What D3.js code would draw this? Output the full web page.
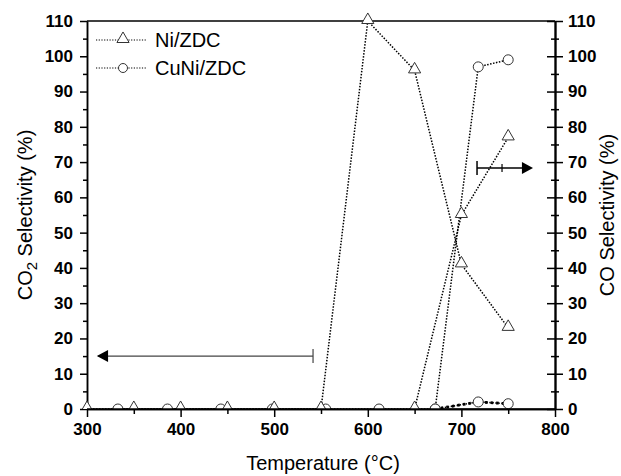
<!DOCTYPE html>
<html><head><meta charset="utf-8">
<script src="https://cdn.jsdelivr.net/npm/d3@7"></script>
<style>
html,body{margin:0;padding:0;background:#fff;}
svg{display:block;font-family:"Liberation Sans",Arial,sans-serif;}
</style></head>
<body>
<script>
// ---- data ----
const niTemps = [300, 350, 400, 450, 500, 550, 600, 650, 700, 750];
const niCO2 = [0, 0, 0, 0, 0, 0, 110, 96, 41, 23];
const niCOTemps = [650, 700, 750];
const niCO = [0, 55, 77];
const cuniTemps = [333, 386, 443, 498, 555, 612, 672, 718, 750];
const cuniCO2 = [0, 0, 0, 0, 0, 0, 0, 2, 1.5];
const cuniCOTemps = [672, 718, 750];
const cuniCO = [0, 97, 99];
const xTicks = [300, 400, 500, 600, 700, 800];
const yTicks = [0, 10, 20, 30, 40, 50, 60, 70, 80, 90, 100, 110];
const seriesNames = ["Ni/ZDC", "CuNi/ZDC"];

const W = 621, H = 476;
const pLeft = 87, pRight = 555, pTop = 21, pBottom = 409;
const svg = d3.select("body").append("svg").attr("width", W).attr("height", H);

const x = d3.scaleLinear().domain([300, 800]).range([pLeft, pRight]);
const y = d3.scaleLinear().domain([0, 110]).range([pBottom, pTop]);

const minorX = d3.range(300, 801, 50).filter(v => v % 100 !== 0);
const minorY = d3.range(5, 110, 10);

function styleAxis(g) {
  g.selectAll("path.domain").attr("stroke", "#000").attr("stroke-width", 1.5);
  g.selectAll(".tick line").attr("stroke", "#000").attr("stroke-width", 1.5);
  g.selectAll("text").attr("font-size", 17).attr("font-weight", "bold")
    .attr("font-family", "'Liberation Sans', Arial, sans-serif").attr("fill", "#000");
}

// top border
svg.append("line").attr("x1", pLeft).attr("x2", pRight).attr("y1", pTop).attr("y2", pTop)
  .attr("stroke", "#000").attr("stroke-width", 1.5);

// bottom axis
svg.append("g").attr("transform", `translate(0,${pBottom})`)
  .call(d3.axisBottom(x).tickValues(minorX).tickSize(5).tickFormat("").tickSizeOuter(0)).call(styleAxis);
svg.append("g").attr("transform", `translate(0,${pBottom})`)
  .call(d3.axisBottom(x).tickValues(xTicks).tickSize(8).tickPadding(6).tickSizeOuter(0)).call(styleAxis);

// left axis
svg.append("g").attr("transform", `translate(${pLeft},0)`)
  .call(d3.axisLeft(y).tickValues(minorY).tickSize(4).tickFormat("").tickSizeOuter(0)).call(styleAxis);
svg.append("g").attr("transform", `translate(${pLeft},0)`)
  .call(d3.axisLeft(y).tickValues(yTicks).tickSize(7).tickPadding(7).tickSizeOuter(0)).call(styleAxis);

// right axis (crossing ticks)
svg.append("g").attr("transform", `translate(${pRight},0)`)
  .call(d3.axisLeft(y).tickValues(minorY).tickSize(4).tickFormat("").tickSizeOuter(0)).call(styleAxis);
svg.append("g").attr("transform", `translate(${pRight},0)`)
  .call(d3.axisRight(y).tickValues(minorY).tickSize(4).tickFormat("").tickSizeOuter(0)).call(styleAxis);
svg.append("g").attr("transform", `translate(${pRight},0)`)
  .call(d3.axisLeft(y).tickValues(yTicks).tickSize(8).tickFormat("").tickSizeOuter(0)).call(styleAxis);
svg.append("g").attr("transform", `translate(${pRight},0)`)
  .call(d3.axisRight(y).tickValues(yTicks).tickSize(8).tickPadding(5).tickSizeOuter(0)).call(styleAxis);

// axis titles
svg.append("text").attr("x", (pLeft + pRight) / 2 + 2).attr("y", 470)
  .attr("text-anchor", "middle").attr("font-size", 20).text("Temperature (°C)");
const lt = svg.append("text").attr("transform", `translate(32,${(pTop + pBottom) / 2}) rotate(-90)`)
  .attr("text-anchor", "middle").attr("font-size", 20);
lt.append("tspan").text("CO");
lt.append("tspan").attr("font-size", 15).attr("dy", 5).text("2");
lt.append("tspan").attr("dy", -5).text(" Selectivity (%)");
svg.append("text").attr("transform", `translate(614,${(pTop + pBottom) / 2}) rotate(-90)`)
  .attr("text-anchor", "middle").attr("font-size", 20).text("CO Selectivity (%)");

// clip
svg.append("clipPath").attr("id", "clip").append("rect")
  .attr("x", 0).attr("y", 0).attr("width", W).attr("height", pBottom);

const plot = svg.append("g").attr("clip-path", "url(#clip)");
const line = d3.line().x(d => x(d[0])).y(d => y(d[1]));

function drawLine(temps, vals, width, dash) {
  plot.append("path").datum(temps.map((t, i) => [t, vals[i]]))
    .attr("d", line).attr("fill", "none").attr("stroke", "#000")
    .attr("stroke-width", width).attr("stroke-dasharray", dash);
}
drawLine(niTemps, niCO2, 1.5, "1.5,1.5");
drawLine(niCOTemps, niCO, 1.5, "1.5,1.5");
drawLine(cuniTemps, cuniCO2, 1.5, "1.5,1.5");
drawLine(cuniTemps.slice(6), cuniCO2.slice(6), 2.8, "2.6,3");
drawLine(cuniCOTemps, cuniCO, 1.5, "1.5,1.5");

const tri = d3.symbol().type(d3.symbolTriangle).size(64);
function drawTri(temps, vals) {
  plot.selectAll(null).data(temps.map((t, i) => [t, vals[i]])).enter().append("path")
    .attr("d", tri).attr("transform", d => `translate(${x(d[0])},${y(d[1]) - 1})`)
    .attr("fill", "#fff").attr("stroke", "#333").attr("stroke-width", 1);
}
function drawCirc(temps, vals) {
  plot.selectAll(null).data(temps.map((t, i) => [t, vals[i]])).enter().append("circle")
    .attr("cx", d => x(d[0])).attr("cy", d => y(d[1])).attr("r", 5)
    .attr("fill", "#fff").attr("stroke", "#333").attr("stroke-width", 1);
}
drawCirc(cuniTemps, cuniCO2);
drawCirc(cuniCOTemps, cuniCO);
drawTri(niTemps, niCO2);
drawTri(niCOTemps, niCO);

// baseline redraw
svg.append("line").attr("x1", pLeft).attr("x2", pRight).attr("y1", pBottom).attr("y2", pBottom)
  .attr("stroke", "#000").attr("stroke-width", 1.5);

// arrows
const ly = y(15);
svg.append("line").attr("x1", x(312)).attr("x2", x(541.5)).attr("y1", ly).attr("y2", ly)
  .attr("stroke", "#444").attr("stroke-width", 1.2);
svg.append("line").attr("x1", x(541.5)).attr("x2", x(541.5)).attr("y1", ly - 7).attr("y2", ly + 7)
  .attr("stroke", "#444").attr("stroke-width", 1.2);
svg.append("path").attr("d", `M${x(310.5)},${ly}L${x(322.5)},${ly - 6}L${x(322.5)},${ly + 6}Z`).attr("fill", "#000");
const ry = y(68.3);
svg.append("line").attr("x1", x(716.7)).attr("x2", x(770)).attr("y1", ry).attr("y2", ry)
  .attr("stroke", "#000").attr("stroke-width", 1.5);
svg.append("line").attr("x1", x(716.7)).attr("x2", x(716.7)).attr("y1", ry - 7).attr("y2", ry + 7)
  .attr("stroke", "#000").attr("stroke-width", 1.5);
svg.append("line").attr("x1", x(743.4)).attr("x2", x(743.4)).attr("y1", ry - 4).attr("y2", ry + 4)
  .attr("stroke", "#000").attr("stroke-width", 1.2);
svg.append("path").attr("d", `M${x(776.5)},${ry}L${x(764.7)},${ry - 6}L${x(764.7)},${ry + 6}Z`).attr("fill", "#000");

// legend
const legRows = [40, 68];
seriesNames.forEach((name, i) => {
  const ly2 = legRows[i];
  svg.append("line").attr("x1", 96).attr("x2", 146).attr("y1", ly2).attr("y2", ly2)
    .attr("stroke", "#000").attr("stroke-width", 1.2).attr("stroke-dasharray", "1.2,1.5");
  if (i === 0) {
    svg.append("path").attr("d", tri).attr("transform", `translate(123,${ly2 - 1})`)
      .attr("fill", "#fff").attr("stroke", "#333");
  } else {
    svg.append("circle").attr("cx", 123).attr("cy", ly2).attr("r", 4.5)
      .attr("fill", "#fff").attr("stroke", "#333");
  }
  svg.append("text").attr("x", 155).attr("y", ly2 + 7).attr("font-size", 20).text(name);
});
</script>
</body></html>
